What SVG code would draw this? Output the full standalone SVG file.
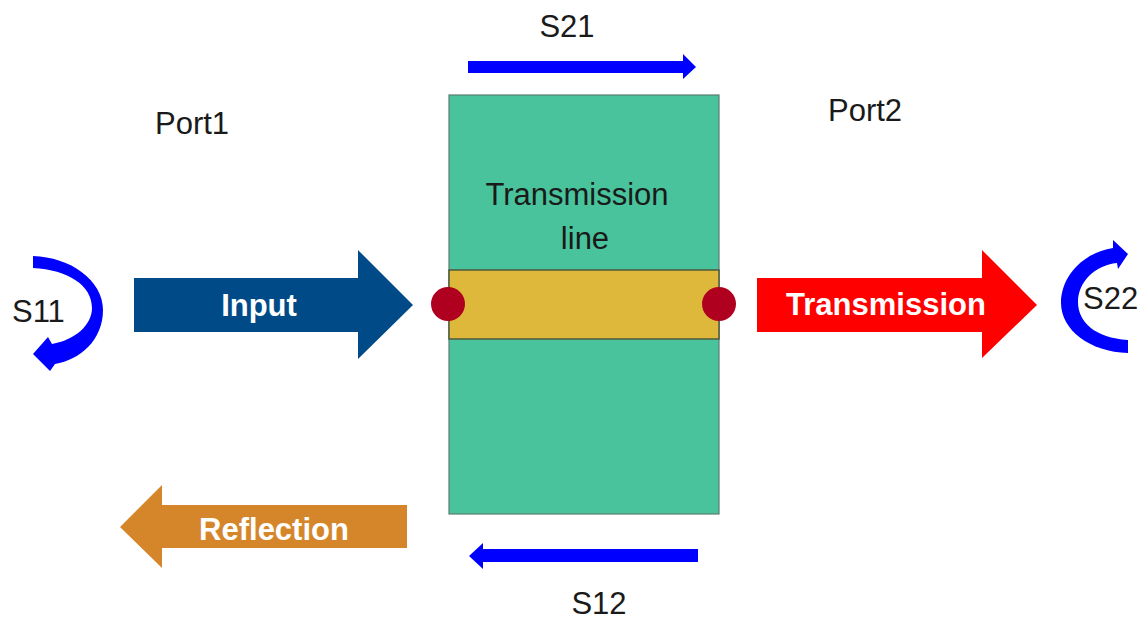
<svg xmlns="http://www.w3.org/2000/svg" width="1138" height="621" viewBox="0 0 1138 621">
<style>
.t{font-family:"Liberation Sans",Arial,sans-serif;font-size:31px;fill:#1a1a1a}
.b{font-family:"Liberation Sans",Arial,sans-serif;font-size:31px;font-weight:bold;fill:#ffffff}
.blue{fill:#0000ff}
</style>
<rect width="1138" height="621" fill="#ffffff"/>
<g id="line-node">
<rect x="449" y="95" width="270" height="419" fill="#48c39b" stroke="#5d7d70" stroke-width="1.2"/>
<rect x="449" y="270" width="270" height="69" fill="#ddb83b" stroke="#4d5a3e" stroke-width="1.5"/>
<text class="t" x="577" y="205" text-anchor="middle">Transmission</text>
<text class="t" x="585" y="249" text-anchor="middle">line</text>
</g>
<g id="port1-dot"><circle cx="448" cy="304" r="17" fill="#b00020"/></g>
<g id="port2-dot"><circle cx="719" cy="304" r="17" fill="#b00020"/></g>
<g id="port1-label"><text class="t" x="155" y="134">Port1</text></g>
<g id="port2-label"><text class="t" x="828" y="121">Port2</text></g>
<g id="input">
<path d="M134,278 H358 V250 L413,305 L358,359 V332 H134 Z" fill="#004b87"/>
<text class="b" x="259" y="316" text-anchor="middle">Input</text>
</g>
<g id="transmission">
<path d="M757,278 H982 V250 L1037,305 L982,358 V332 H757 Z" fill="#ff0000"/>
<text class="b" x="886" y="315" text-anchor="middle">Transmission</text>
</g>
<g id="reflection">
<path d="M407,505 H162 V485 L120,527 L162,568 V548 H407 Z" fill="#d6862a"/>
<text class="b" x="274" y="540" text-anchor="middle">Reflection</text>
</g>
<g id="connectors">
<path class="blue" d="M468,61 H683 V54 L696,67 L683,79 V73 H468 Z"/>
<path class="blue" d="M698,549 H483 V543 L469,556 L483,569 V562 H698 Z"/>
<path class="blue" d="M33,256 C70,257 103,280 103,310 C103,340 80,360 55,364 L50,371 L33,354 L48,337 L52,344 C75,340 92,325 92,308 C92,285 68,270 33,268 Z"/>
<path class="blue" d="M1128,353 C1090,352 1061,330 1061,303 C1061,275 1085,252 1113,248 L1113,240 L1128,254 L1118,269 L1117,263 C1095,265 1078,282 1078,302 C1078,322 1095,338 1128,340 Z"/>
</g>
<g id="labels">
<text class="t" x="567" y="37" text-anchor="middle">S21</text>
<text class="t" x="599" y="614" text-anchor="middle">S12</text>
<text class="t" x="12" y="322">S11</text>
<text class="t" x="1083" y="309">S22</text>
</g>
</svg>
